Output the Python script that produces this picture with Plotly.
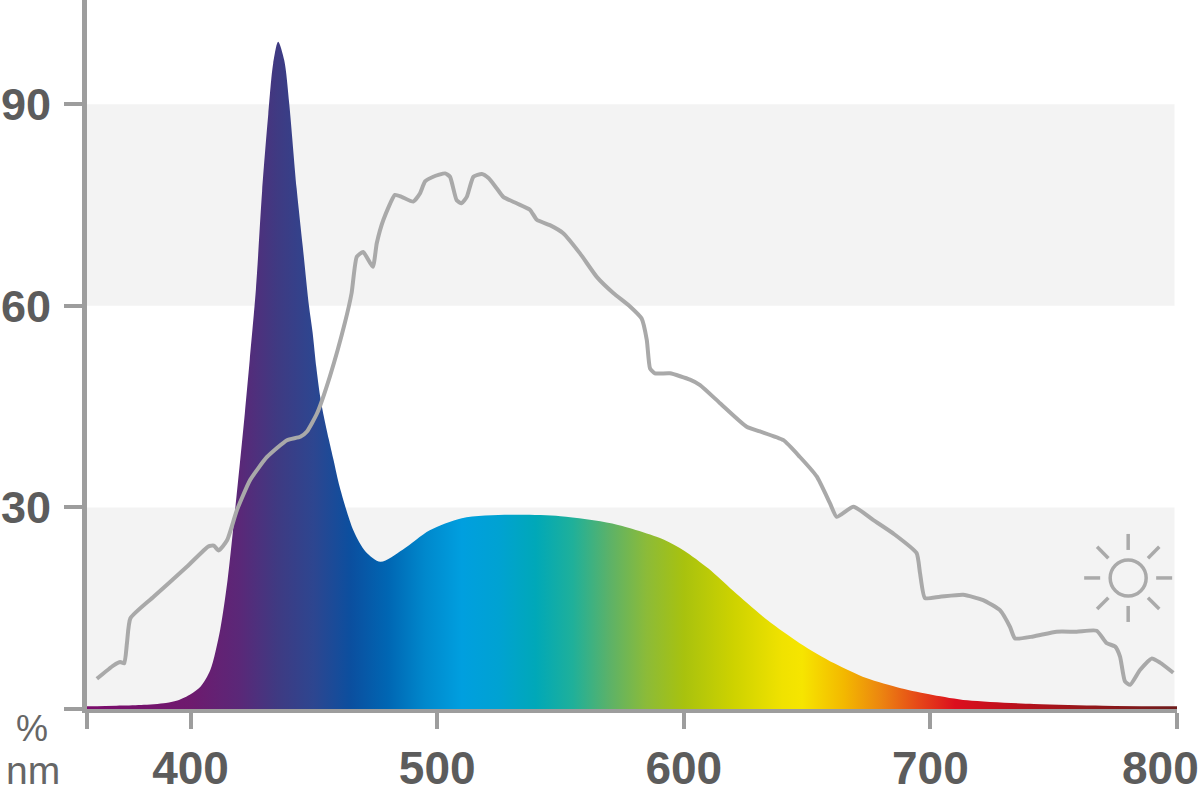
import math
import plotly.graph_objects as go

# ---- data ----
led_nm = [358, 370, 380, 390, 395, 400, 404, 408, 412, 415, 417.5, 420, 422, 424, 426.5,
          429, 431.5, 433.5, 435.5, 438, 440, 443, 445.5, 448, 449.5, 451, 452.5, 454, 456,
          458, 460.5, 466, 471, 477, 486, 497, 510, 530, 550, 571, 592, 600, 610, 620, 634,
          647, 661, 674, 688, 701, 715, 742, 770, 800]
led_val = [0.4, 0.5, 0.6, 0.9, 1.3, 2.2, 3.3, 5.8, 11.8, 19.2, 27.6, 36.6, 44.0, 52.0, 62.5,
           77.0, 88.5, 96.1, 99.3, 96.5, 90.1, 77.5, 68.8, 60.0, 56.0, 50.8, 46.6, 43.6, 40.2,
           37.0, 33.0, 26.6, 23.4, 21.9, 23.7, 26.6, 28.4, 28.9, 28.7, 27.6, 25.2, 23.6, 20.9,
           17.6, 13.2, 9.8, 6.8, 4.6, 3.1, 2.1, 1.3, 0.75, 0.5, 0.4]

sun_nm = [362, 368.8, 371.5, 373.1, 374.2, 375.6, 385, 398.6, 407.3, 409.4, 411.4, 414.8, 418.8,
          424.2, 431, 439.1, 444.5, 447.2, 451.3, 456.5, 462.6, 465.3, 467.4, 470.0, 473.9, 475.5,
          478.2, 482.9, 485.6, 490.3, 493.0, 495.1, 498.4, 503.2, 505.2, 507.9, 509.9, 512.0,
          514.7, 518.1, 520.8, 524.1, 526.8, 532.2, 537.6, 540.4, 545.7, 551.1, 557.9, 564.7,
          571.4, 578.2, 582.9, 585.0, 586.3, 588.3, 594.4, 602.5, 606.6, 614.7, 625.5, 630.9,
          640.4, 647.1, 653.9, 659.3, 662.0, 668.8, 676.9, 685.0, 694.4, 695.8, 697.8, 703.9,
          713.3, 721.4, 728.2, 732.3, 734.3, 741.7, 751.2, 759.3, 767.4, 771.5, 774.9, 776.9,
          778.9, 781.0, 785.0, 789.7, 793.1, 798.5]
sun_val = [4.5, 6.5, 7.0, 6.8, 9.8, 13.5, 16.7, 21.2, 24.2, 24.3, 23.6, 25.1, 29.6,
           34.1, 37.5, 40.0, 40.5, 41.3, 44.0, 49.5, 57.5, 61.9, 67.3, 68.0, 65.8, 69.3,
           72.8, 76.5, 76.2, 75.5, 76.7, 78.5, 79.2, 79.7, 79.2, 75.7, 75.25, 76.2,
           79.2, 79.6, 79.0, 77.5, 76.2, 75.25, 74.3, 72.8, 72.0, 70.8, 67.8, 64.3,
           61.9, 59.9, 58.1, 54.9, 50.7, 49.95, 49.95, 49.0, 48.2, 45.5, 42.0, 41.3,
           40.0, 37.5, 34.6, 30.6, 28.6, 30.1, 28.1, 26.1, 23.2, 20.2, 16.5, 16.7,
           17.0, 16.2, 14.7, 12.2, 10.5, 10.8, 11.5, 11.5, 11.65, 9.8, 9.3, 7.8,
           4.1, 3.6, 5.8, 7.5, 6.9, 5.4]

x_ticks = [358, 400, 500, 600, 700, 800]
x_ticktext = ["", "400", "500", "600", "700", ""]
x_last_label = "800"   # drawn as an annotation so it can sit inside the right edge
y_ticks = [0, 30, 60, 90]
y_ticktext = ["", "30", "60", "90"]
bands = [(0, 30), (60, 90)]

# spectrum colour stops (wavelength, colour)
grad_nm = [358, 400, 420, 435, 450, 465, 480, 495, 510, 525, 540, 555, 570, 585, 600,
           620, 640, 648, 665, 680, 695, 710, 730, 760, 800]
grad_col = ["#7b0c6b", "#6e1a6e", "#5a2878", "#3f3a82", "#2d4690", "#0b4f9f", "#0066b3",
            "#0088cc", "#009fdf", "#00a2d2", "#00a8b8", "#1fb09a", "#5cb268", "#8cbb38",
            "#a8c20e", "#cdd200", "#f0e200", "#f6e500", "#f3b800", "#ec8510", "#e64818",
            "#dc0f1e", "#c00f1c", "#98161a", "#6e1c1c"]

XMIN, XMAX = 358, 800
YMAX = 105.5
AXIS_COL = "#9d9d9d"
LABEL_COL = "#5c5c5c"
FONT = "Liberation Sans Narrow, Liberation Sans, Arial, sans-serif"

colorscale = [[(w - XMIN) / (XMAX - XMIN), c] for w, c in zip(grad_nm, grad_col)]

fig = go.Figure()
fig.add_trace(go.Scatter(
    x=led_nm, y=led_val, mode="lines", line=dict(width=0, shape="spline", smoothing=0.8),
    fill="tozeroy",
    fillgradient=dict(type="horizontal", colorscale=colorscale, start=XMIN, stop=XMAX),
    hoverinfo="skip", showlegend=False))
fig.add_trace(go.Scatter(
    x=sun_nm, y=sun_val, mode="lines",
    line=dict(color="#a9a9a9", width=4, shape="spline", smoothing=0.5),
    hoverinfo="skip", showlegend=False))

shapes = []
for y0, y1 in bands:
    shapes.append(dict(type="rect", xref="x", yref="y", x0=XMIN, x1=XMAX - 1, y0=y0, y1=y1,
                       fillcolor="#f3f3f3", line=dict(width=0), layer="below"))

# sun icon
sx, sy = 780.2, 19.5
sun_line = dict(color="#aaaaaa", width=3.5)
shapes.append(dict(type="circle", xref="x", yref="y", xsizemode="pixel", ysizemode="pixel",
                   xanchor=sx, yanchor=sy, x0=-18, x1=18, y0=-18, y1=18, line=sun_line))
for k in range(8):
    a = math.radians(45 * k)
    shapes.append(dict(type="line", xref="x", yref="y", xsizemode="pixel", ysizemode="pixel",
                       xanchor=sx, yanchor=sy,
                       x0=28 * math.cos(a), y0=28 * math.sin(a),
                       x1=44 * math.cos(a), y1=44 * math.sin(a), line=sun_line))

tick_font = dict(family=FONT, size=46, color=LABEL_COL, weight="bold")

fig.update_layout(
    template="none",
    width=1200, height=793,
    margin=dict(l=87, r=23, t=0, b=84, autoexpand=False),
    paper_bgcolor="white", plot_bgcolor="white",
    shapes=shapes,
    xaxis=dict(range=[XMIN, XMAX], showgrid=False, zeroline=False, automargin=False,
               showline=True, linecolor=AXIS_COL, linewidth=4,
               tickmode="array", tickvals=x_ticks, ticktext=x_ticktext,
               ticks="outside", ticklen=16, tickwidth=4, tickcolor=AXIS_COL,
               tickfont=tick_font, ticklabelstandoff=0, ticklabeloverflow="allow"),
    yaxis=dict(range=[0, YMAX], showgrid=False, zeroline=False, automargin=False,
               showline=True, linecolor=AXIS_COL, linewidth=5,
               tickmode="array", tickvals=y_ticks, ticktext=y_ticktext,
               ticks="outside", ticklen=18, tickwidth=4, tickcolor=AXIS_COL,
               tickfont=dict(family=FONT, size=45, color=LABEL_COL, weight="bold"),
               ticklabelstandoff=4, ticklabeloverflow="allow"),
    annotations=[
        dict(text=x_last_label, xref="x", yref="paper", x=XMAX, y=-0.045, xshift=-17,
             showarrow=False, xanchor="center", yanchor="top", borderpad=0, font=tick_font),
        dict(text="%", xref="paper", yref="paper", x=-0.0505, y=-0.0282, showarrow=False,
             xanchor="center", yanchor="middle", borderpad=0,
             font=dict(family="Liberation Sans, Arial, sans-serif", size=36, color="#666666")),
        dict(text="nm", xref="paper", yref="paper", x=-0.0495, y=-0.0867, showarrow=False,
             xanchor="center", yanchor="middle", borderpad=0,
             font=dict(family="Liberation Sans, Arial, sans-serif", size=39, color="#666666")),
    ],
)

fig.write_html("out.html", config={"displayModeBar": False},
               post_script="document.body.style.margin='0px';")
